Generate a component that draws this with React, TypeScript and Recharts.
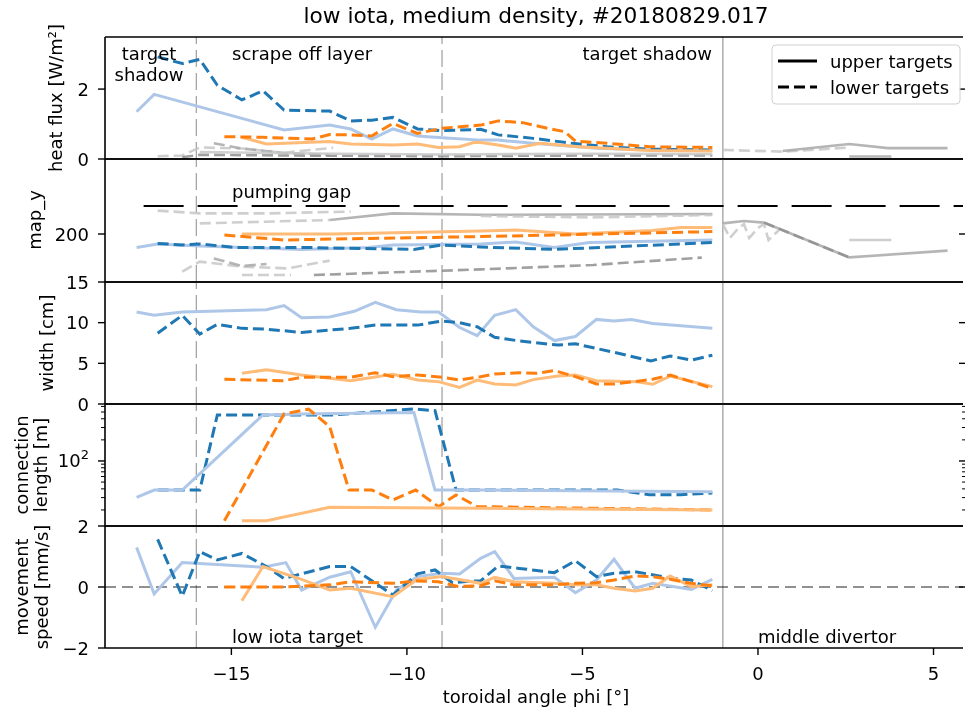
import React from 'react'
import { Line, LineChart, ReferenceLine, XAxis, YAxis } from 'recharts'

// Five stacked panels sharing the toroidal angle axis (phi, degrees).
// Each series is a list of [phi, value] pairs.

type Pt = [number, number]

const FONT = 'DejaVu Sans, Verdana, sans-serif'
const W = 965
const PLOT_LEFT = 105
const RIGHT_TICK_X = 959
const X_DOMAIN: [number, number] = [-18.6, 5.84]
const X_TICKS = [-15, -10, -5, 0, 5]
const DASHED_BOUNDS = [-16, -9]
const SOLID_BOUND = -1

const BLUE = '#1f77b4'
const LBLUE = '#aec7e8'
const ORANGE = '#ff7f0e'
const LORANGE = '#ffbb78'
const GRAY_L = '#c7c7c7'
const GRAY_M = '#a8a8a8'
const GRAY_D = '#8f8f8f'

// heat flux [W/m²]
const hfUpperBlue: Pt[] = [[-17.7, 1.35], [-17.2, 1.85], [-13.5, 0.83], [-12.2, 0.97], [-11.6, 0.86], [-11.0, 0.57], [-10.4, 0.86], [-9.7, 0.66], [-9.0, 0.61], [-7.9, 0.54], [-7.4, 0.54], [-6.4, 0.45], [-4.6, 0.31], [-3.1, 0.26], [-1.3, 0.24]]
const hfLowerBlue: Pt[] = [[-17.1, 2.92], [-16.4, 2.73], [-15.9, 2.85], [-15.4, 2.11], [-14.7, 1.69], [-14.1, 1.95], [-13.5, 1.4], [-12.2, 1.37], [-11.6, 1.09], [-11.0, 1.11], [-10.4, 1.19], [-9.7, 0.86], [-9.0, 0.81], [-7.9, 0.85], [-7.4, 0.69], [-6.4, 0.59], [-5.3, 0.45], [-4.3, 0.35], [-3.1, 0.28], [-1.3, 0.26]]
const hfUpperOrange: Pt[] = [[-14.7, 0.62], [-14.0, 0.43], [-12.2, 0.5], [-11.6, 0.43], [-10.4, 0.4], [-9.7, 0.43], [-9.1, 0.33], [-8.5, 0.35], [-8.1, 0.47], [-7.9, 0.47], [-7.4, 0.4], [-6.9, 0.31], [-6.2, 0.45], [-5.1, 0.35], [-3.1, 0.24], [-1.3, 0.23]]
const hfLowerOrange: Pt[] = [[-15.2, 0.64], [-14.1, 0.62], [-12.7, 0.57], [-12.2, 0.7], [-11.6, 0.69], [-11.0, 0.66], [-10.4, 1.02], [-9.7, 0.73], [-9.0, 0.88], [-7.9, 0.97], [-7.4, 1.09], [-6.7, 1.04], [-6.0, 0.88], [-5.5, 0.78], [-5.2, 0.51], [-4.3, 0.45], [-3.1, 0.35], [-1.3, 0.33]]
const hfGrayA: Pt[] = [[-17.1, 0.08], [-16.4, 0.1], [-15.9, 0.33], [-14.7, 0.3], [-13.5, 0.18], [-12.1, 0.32]]
const hfGrayB: Pt[] = [[-15.5, 0.45], [-14.7, 0.3], [-13.5, 0.17], [-12.2, 0.12]]
const hfGrayC: Pt[] = [[-16.4, 0.05], [-15.9, 0.12], [-13.5, 0.1], [-9.0, 0.08], [-5.0, 0.1], [-1.3, 0.1]]
const hfGrayD: Pt[] = [[-15.9, 0.2], [-12.0, 0.15], [-9.0, 0.13], [-5.0, 0.15], [-1.3, 0.14]]
const hfMidDashed: Pt[] = [[-1.0, 0.26], [0.7, 0.21], [2.6, 0.33]]
const hfMidSolid: Pt[] = [[0.7, 0.23], [2.6, 0.43], [3.7, 0.31], [5.4, 0.31]]
const hfMidShort: Pt[] = [[2.6, 0.07], [3.8, 0.07]]

// map_y
const pumpingGap: Pt[] = [[-17.5, 214], [6.5, 214]]
const myUpperBlue: Pt[] = [[-17.7, 193.3], [-17.1, 195], [-15.9, 194], [-13.0, 192.3], [-11.1, 193.3], [-10.4, 194.5], [-7.9, 195], [-6.9, 196], [-5.8, 193.3], [-4.8, 195.7], [-1.3, 197]]
const myLowerBlue: Pt[] = [[-17.1, 195.3], [-16.4, 194.5], [-15.9, 195], [-14.9, 193.3], [-13.0, 193.3], [-9.8, 192.3], [-9.0, 194.5], [-7.9, 193.5], [-5.8, 192.3], [-1.3, 195.7]]
const myUpperOrange: Pt[] = [[-14.7, 200], [-12.1, 200], [-7.9, 201.5], [-6.9, 202], [-5.2, 200], [-3.0, 201.7], [-2.2, 203.3], [-1.3, 203.3]]
const myLowerOrange: Pt[] = [[-15.2, 199.5], [-13.5, 197], [-11.1, 197.8], [-7.9, 198.7], [-1.3, 201.2]]
const myGrayA: Pt[] = [[-17.1, 211.7], [-15.9, 210.3], [-14.0, 210.3], [-11.6, 211.2]]
const myGrayB1: Pt[] = [[-15.9, 205.3], [-12.2, 207]]
const myGrayB2: Pt[] = [[-12.2, 207], [-10.4, 210.3], [-7.9, 209.6], [-1.3, 210]]
const myGrayC: Pt[] = [[-7.9, 209], [-4.7, 208.3], [-1.3, 209.5]]
const myGrayD: Pt[] = [[-16.4, 181.2], [-15.9, 186.2], [-14.7, 183.7], [-13.4, 182.8], [-12.2, 186.7]]
const myGrayE: Pt[] = [[-15.5, 187.8], [-14.7, 184], [-14.0, 185]]
const myGrayF: Pt[] = [[-14.7, 179.5], [-13.3, 179.5]]
const myGrayG: Pt[] = [[-12.65, 179.5], [-7.9, 182.3], [-4.7, 184.5], [-1.6, 188.2]]
const myMidSolid: Pt[] = [[-1.0, 205.3], [-0.4, 206.5], [0.17, 205.7], [2.6, 188.3], [5.4, 191.7]]
const myMidZigzag: Pt[] = [[-1.0, 205], [-0.8, 198], [-0.55, 203], [-0.4, 205], [-0.25, 198], [0.0, 203], [0.17, 205], [0.3, 197], [0.6, 202]]
const myMidDashed: Pt[] = [[0.17, 205.7], [2.6, 188.3]]
const myMidShort: Pt[] = [[2.6, 197], [3.8, 197]]

// width [cm]
const wUpperBlue: Pt[] = [[-17.7, 11.3], [-17.2, 10.9], [-16.4, 11.3], [-14.0, 11.6], [-13.5, 12.1], [-13.0, 10.6], [-12.2, 10.7], [-11.5, 11.4], [-10.9, 12.5], [-10.3, 11.6], [-9.6, 11.3], [-9.1, 11.3], [-8.5, 9.4], [-8.0, 8.4], [-7.5, 10.9], [-6.9, 11.6], [-6.4, 9.5], [-5.8, 7.8], [-5.2, 8.3], [-4.6, 10.4], [-4.1, 10.2], [-3.6, 10.4], [-3.0, 9.9], [-1.3, 9.3]]
const wLowerBlue: Pt[] = [[-17.1, 8.7], [-16.4, 10.9], [-15.9, 8.6], [-15.4, 9.8], [-14.7, 9.3], [-14.0, 9.2], [-13.0, 8.8], [-11.6, 9.3], [-10.9, 9.7], [-9.7, 9.7], [-9.0, 10.2], [-8.5, 10.0], [-8.0, 9.5], [-7.5, 8.2], [-6.8, 7.75], [-5.7, 7.25], [-5.2, 7.4], [-4.1, 6.35], [-3.05, 5.3], [-2.5, 5.9], [-1.9, 5.4], [-1.3, 6.0]]
const wUpperOrange: Pt[] = [[-14.7, 3.77], [-14.0, 4.2], [-13.0, 3.57], [-12.2, 3.16], [-11.6, 2.87], [-10.4, 3.65], [-9.7, 2.95], [-9.1, 2.75], [-8.5, 2.05], [-8.0, 2.95], [-7.5, 2.46], [-6.9, 2.34], [-6.4, 3.0], [-5.7, 3.44], [-5.2, 3.57], [-4.6, 2.87], [-3.5, 2.75], [-3.0, 2.42], [-2.5, 3.44], [-1.3, 2.13]]
const wLowerOrange: Pt[] = [[-15.2, 3.04], [-13.5, 2.87], [-13.0, 3.28], [-11.6, 3.28], [-10.9, 3.85], [-10.4, 3.36], [-9.7, 3.57], [-9.0, 3.28], [-8.5, 2.95], [-7.9, 3.36], [-7.5, 3.69], [-6.8, 3.85], [-6.3, 3.77], [-5.8, 4.1], [-5.2, 3.36], [-4.6, 2.46], [-4.1, 2.46], [-3.5, 2.75], [-3.0, 3.04], [-2.5, 3.57], [-1.3, 1.93]]

// connection length [m], log scale
const clUpperBlue: Pt[] = [[-17.7, 30.3], [-17.2, 38.5], [-16.4, 38.5], [-14.1, 454], [-13.0, 469], [-9.8, 490], [-9.2, 38.5], [-7.9, 38.5], [-1.3, 36.5]]
const clLowerBlue: Pt[] = [[-17.1, 38.5], [-15.9, 38.5], [-15.4, 454], [-12.1, 454], [-9.8, 552], [-9.2, 522], [-8.6, 38.5], [-4.0, 38.5], [-3.1, 33], [-2.2, 33], [-1.3, 35]]
const clUpperOrange: Pt[] = [[-14.7, 14], [-14.0, 14], [-12.2, 21.8], [-7.9, 21.1], [-1.3, 20]]
const clLowerOrange: Pt[] = [[-15.2, 14], [-13.5, 469], [-12.8, 548], [-12.2, 309], [-11.65, 38.5], [-11.0, 38.5], [-10.4, 27.8], [-9.75, 38.5], [-9.1, 22.3], [-8.6, 32.7], [-8.0, 22.3], [-1.3, 20]]

// movement speed [mm/s]
const msUpperBlue: Pt[] = [[-17.7, 1.3], [-17.2, -0.23], [-16.4, 0.8], [-14.1, 0.65], [-13.45, 0.8], [-13.0, -0.1], [-12.2, 0.32], [-11.6, 0.5], [-10.9, -1.32], [-10.3, -0.1], [-9.7, 0.34], [-9.0, 0.45], [-8.5, 0.43], [-7.9, 0.94], [-7.5, 1.16], [-6.95, 0.28], [-5.8, 0.32], [-5.2, -0.19], [-4.6, 0.23], [-4.1, 0.91], [-3.5, -0.04], [-3.0, 0.12], [-1.9, -0.08], [-1.3, 0.25]]
const msLowerBlue: Pt[] = [[-17.1, 1.56], [-16.4, -0.3], [-15.9, 1.16], [-15.4, 0.89], [-14.7, 1.1], [-14.0, 0.67], [-13.5, 0.28], [-12.2, 0.67], [-11.6, 0.67], [-10.4, -0.26], [-9.7, 0.43], [-9.2, 0.56], [-8.7, 0.14], [-8.1, 0.2], [-7.9, 0.2], [-7.4, 0.69], [-6.8, 0.61], [-5.8, 0.47], [-5.2, 0.86], [-4.6, 0.34], [-4.1, 0.45], [-3.5, 0.5], [-2.4, 0.28], [-1.9, 0.23], [-1.3, -0.12]]
const msUpperOrange: Pt[] = [[-14.7, -0.45], [-14.1, 0.67], [-13.0, 0.25], [-12.2, -0.1], [-11.6, -0.04], [-10.4, -0.32], [-9.7, 0.25], [-9.0, 0.34], [-7.9, 0.12], [-7.5, 0.32], [-6.95, 0.17], [-5.8, 0.12], [-5.2, 0.07], [-4.6, 0.07], [-4.1, -0.04], [-3.5, -0.13], [-3.0, -0.04], [-2.5, 0.36], [-1.9, 0.01], [-1.3, 0.07]]
const msLowerOrange: Pt[] = [[-15.2, 0], [-13.5, 0], [-12.2, 0.07], [-11.6, 0.17], [-10.4, 0.12], [-9.7, 0.2], [-9.1, 0.17], [-8.55, 0.02], [-7.9, 0.04], [-7.5, 0.2], [-6.95, 0.07], [-5.8, 0.07], [-5.2, 0.12], [-4.6, 0.14], [-4.1, 0.23], [-3.5, 0.36], [-3.0, 0.34], [-2.5, 0.25], [-1.9, 0.12], [-1.3, 0.04]]

interface Series {
  data: Pt[]
  color: string
  dash?: string
  width?: number
  opacity?: number
}

const solid = (data: Pt[], color: string): Series => ({ data, color, width: 3 })
const dashed = (data: Pt[], color: string): Series => ({ data, color, dash: '11 5', width: 3 })
const grayDash = (data: Pt[], color: string): Series => ({ data, color, dash: '11 5', width: 2.6, opacity: 0.85 })
const graySolid = (data: Pt[], color: string): Series => ({ data, color, width: 2.6, opacity: 0.85 })

const minus = (v: number) => String(v).replace('-', '\u2212')

// left tick with label, plus the short marks that show at the right edge
function yTick(
  fmt: (v: number) => React.ReactNode,
  isMajor: (v: number) => boolean = () => true,
  rightTick: (v: number) => boolean = () => true
) {
  return (props: any) => {
    const { y, payload } = props
    const v = payload.value as number
    const major = isMajor(v)
    const label = fmt(v)
    return (
      <g>
        <line x1={PLOT_LEFT - (major ? 7 : 4)} x2={PLOT_LEFT} y1={y} y2={y} stroke="#000" strokeWidth={major ? 1.4 : 1} />
        {rightTick(v) && (
          <line x1={RIGHT_TICK_X + (major ? 0 : 3)} x2={W} y1={y} y2={y} stroke="#000" strokeWidth={major ? 1.4 : 1} />
        )}
        {label !== null && (
          <text x={89} y={y} textAnchor="end" dominantBaseline="central" fontSize={18} fontFamily={FONT} fill="#000">
            {label}
          </text>
        )}
      </g>
    )
  }
}

interface PanelProps {
  top: number
  height: number
  domain: [number, number]
  ticks: number[]
  tick: (props: any) => React.ReactElement
  series: Series[]
  log?: boolean
  bottom?: boolean
  zeroLine?: boolean
}

function Panel({ top, height, domain, ticks, tick, series, log, bottom, zeroLine }: PanelProps) {
  const extra = bottom ? 60 : 0
  return (
    <div style={{ position: 'absolute', left: 0, top }}>
      <LineChart width={W} height={height + extra} margin={{ top: 0, right: 2, bottom: 0, left: 0 }}>
        <XAxis
          type="number"
          dataKey="x"
          domain={X_DOMAIN}
          allowDataOverflow
          ticks={X_TICKS}
          interval={0}
          hide={!bottom}
          height={extra}
          axisLine={{ stroke: '#000', strokeWidth: 1.6 }}
          tickLine={false}
          tick={(p: any) => (
            <g>
              <line x1={p.x} x2={p.x} y1={height} y2={height + 7} stroke="#000" strokeWidth={1.4} />
              <text x={p.x} y={height + 25} textAnchor="middle" dominantBaseline="central" fontSize={18} fontFamily={FONT} fill="#000">
                {minus(p.payload.value)}
              </text>
            </g>
          )}
        />
        <YAxis
          type="number"
          domain={domain}
          scale={log ? 'log' : 'linear'}
          allowDataOverflow
          ticks={ticks}
          interval={0}
          width={PLOT_LEFT}
          axisLine={{ stroke: '#000', strokeWidth: 1.6 }}
          tickLine={false}
          tick={tick}
        />
        {DASHED_BOUNDS.map((b) => (
          <ReferenceLine key={b} x={b} stroke="#8a8a8a" strokeWidth={1} strokeDasharray="17 6" />
        ))}
        <ReferenceLine x={SOLID_BOUND} stroke="#999" strokeWidth={1.2} />
        {zeroLine && <ReferenceLine y={0} stroke="#222" strokeWidth={1.2} strokeDasharray="11 6" />}
        {series.map((s, i) => (
          <Line
            key={i}
            data={s.data.map(([x, y]) => ({ x, y }))}
            dataKey="y"
            type="linear"
            stroke={s.color}
            strokeWidth={s.width}
            strokeDasharray={s.dash}
            strokeOpacity={s.opacity ?? 1}
            dot={false}
            activeDot={false}
            isAnimationActive={false}
          />
        ))}
        <ReferenceLine y={domain[1]} stroke="#000" strokeWidth={1.6} />
        {!bottom && <ReferenceLine y={domain[0]} stroke="#000" strokeWidth={1.6} />}
      </LineChart>
    </div>
  )
}

const txt = { fontFamily: FONT, fontSize: 18, fill: '#000' }

export default function App() {
  const rotated = (x: number, y: number, s: string) => (
    <text x={x} y={y} transform={`rotate(-90 ${x} ${y})`} textAnchor="middle" {...txt}>
      {s}
    </text>
  )
  return (
    <div style={{ position: 'fixed', left: 0, top: 0, width: W, height: 713, background: '#fff' }}>
      <style>{'.recharts-surface{overflow:visible}'}</style>
      <Panel
        top={37}
        height={122}
        domain={[0, 3.49]}
        ticks={[0, 2]}
        tick={yTick((v) => String(v), () => true, (v) => v === 2)}
        series={[
          grayDash(hfGrayA, GRAY_L),
          grayDash(hfGrayB, GRAY_M),
          grayDash(hfGrayC, GRAY_D),
          graySolid(hfGrayD, GRAY_L),
          grayDash(hfMidDashed, GRAY_L),
          graySolid(hfMidSolid, GRAY_M),
          graySolid(hfMidShort, GRAY_M),
          solid(hfUpperBlue, LBLUE),
          dashed(hfLowerBlue, BLUE),
          solid(hfUpperOrange, LORANGE),
          dashed(hfLowerOrange, ORANGE),
        ]}
      />
      <Panel
        top={159}
        height={123}
        domain={[176, 237.5]}
        ticks={[200]}
        tick={yTick((v) => String(v))}
        series={[
          { data: pumpingGap, color: '#000', dash: '40 14', width: 2 },
          grayDash(myGrayA, GRAY_L),
          grayDash(myGrayB1, GRAY_L),
          graySolid(myGrayB2, GRAY_M),
          grayDash(myGrayC, GRAY_L),
          grayDash(myGrayD, GRAY_L),
          grayDash(myGrayE, GRAY_M),
          grayDash(myGrayF, GRAY_L),
          grayDash(myGrayG, GRAY_D),
          graySolid(myMidSolid, GRAY_M),
          grayDash(myMidZigzag, GRAY_L),
          grayDash(myMidDashed, GRAY_D),
          graySolid(myMidShort, GRAY_L),
          solid(myUpperBlue, LBLUE),
          dashed(myLowerBlue, BLUE),
          solid(myUpperOrange, LORANGE),
          dashed(myLowerOrange, ORANGE),
        ]}
      />
      <Panel
        top={282}
        height={122}
        domain={[0, 15]}
        ticks={[0, 5, 10, 15]}
        tick={yTick((v) => String(v), () => true, (v) => v === 5 || v === 10)}
        series={[solid(wUpperBlue, LBLUE), dashed(wLowerBlue, BLUE), solid(wUpperOrange, LORANGE), dashed(wLowerOrange, ORANGE)]}
      />
      <Panel
        top={404}
        height={122}
        domain={[11.8, 650]}
        log
        ticks={[20, 30, 40, 50, 60, 70, 80, 90, 100, 200, 300, 400, 500, 600]}
        tick={yTick(
          (v) =>
            v === 100 ? (
              <>
                10<tspan fontSize={13} dy={-7}>2</tspan>
              </>
            ) : null,
          (v) => v === 100
        )}
        series={[dashed(clLowerBlue, BLUE), solid(clUpperBlue, LBLUE), dashed(clLowerOrange, ORANGE), solid(clUpperOrange, LORANGE)]}
      />
      <Panel
        top={526}
        height={122}
        domain={[-2, 2]}
        ticks={[-2, 0, 2]}
        tick={yTick((v) => minus(v), () => true, (v) => v === 0)}
        bottom
        zeroLine
        series={[solid(msUpperBlue, LBLUE), dashed(msLowerBlue, BLUE), solid(msUpperOrange, LORANGE), dashed(msLowerOrange, ORANGE)]}
      />
      <svg width={W} height={713} style={{ position: 'absolute', left: 0, top: 0, pointerEvents: 'none' }}>
        <text x={536} y={23} textAnchor="middle" fontFamily={FONT} fontSize={21.7} fill="#000">
          low iota, medium density, #20180829.017
        </text>
        {rotated(62, 98, 'heat flux [W/m²]')}
        {rotated(41, 220, 'map_y')}
        {rotated(53, 343, 'width [cm]')}
        {rotated(28, 465, 'connection')}
        {rotated(47, 465, 'length [m]')}
        {rotated(28, 587, 'movement')}
        {rotated(48, 587, 'speed [mm/s]')}
        <text x={536} y={703} textAnchor="middle" {...txt}>toroidal angle phi [°]</text>

        <text x={149} y={53} textAnchor="middle" dominantBaseline="central" {...txt}>target</text>
        <text x={149} y={74} textAnchor="middle" dominantBaseline="central" {...txt}>shadow</text>
        <text x={232} y={53} dominantBaseline="central" {...txt}>scrape off layer</text>
        <text x={712} y={53} textAnchor="end" dominantBaseline="central" {...txt}>target shadow</text>
        <text x={232} y={191} dominantBaseline="central" {...txt}>pumping gap</text>
        <text x={232} y={636} dominantBaseline="central" {...txt}>low iota target</text>
        <text x={758} y={636} dominantBaseline="central" {...txt}>middle divertor</text>

        <rect x={772} y={45} width={188} height={59} rx={4} fill="#fff" fillOpacity={0.85} stroke="#d0d0d0" strokeWidth={1} />
        <line x1={778} x2={817} y1={61} y2={61} stroke="#000" strokeWidth={3} />
        <line x1={778} x2={817} y1={87} y2={87} stroke="#000" strokeWidth={3} strokeDasharray="11 5" />
        <text x={830} y={61} dominantBaseline="central" {...txt}>upper targets</text>
        <text x={830} y={87} dominantBaseline="central" {...txt}>lower targets</text>
      </svg>
    </div>
  )
}
